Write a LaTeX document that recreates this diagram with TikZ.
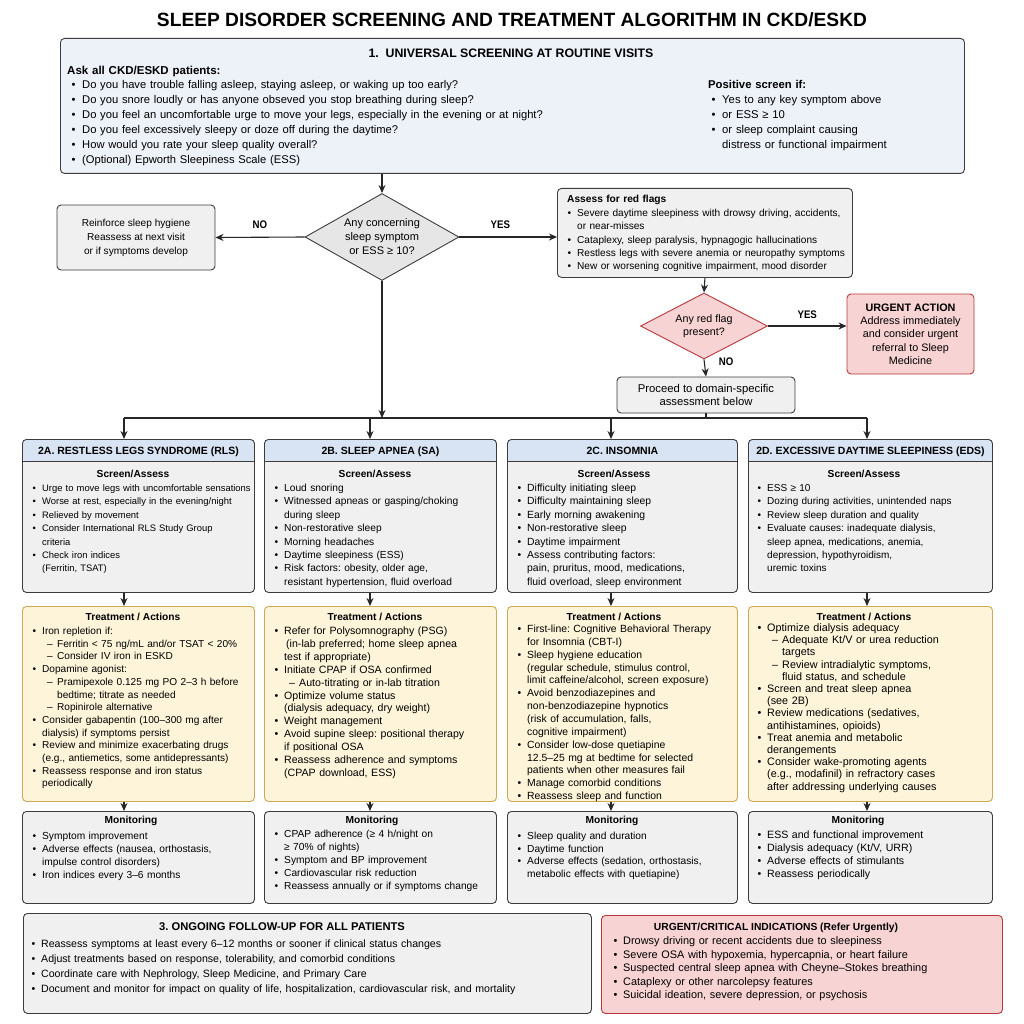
\documentclass[tikz,border=0pt]{standalone}
\usepackage{fontspec}
\setmainfont{Liberation Sans}
\newfontfamily\narrowfont[FakeStretch=0.88]{Liberation Sans}
\usetikzlibrary{shapes.geometric,arrows.meta,positioning,calc}
\frenchspacing

\definecolor{linegray}{HTML}{3C3C3C}
\definecolor{boxgray}{HTML}{F0F0F0}
\definecolor{diagray}{HTML}{E6E6E6}
\definecolor{paleblue}{HTML}{EDF1F8}
\definecolor{hdrblue}{HTML}{D8E4F3}
\definecolor{paleyellow}{HTML}{FDF4D9}
\definecolor{tanline}{HTML}{CFA854}
\definecolor{palered}{HTML}{F8D3D3}
\definecolor{darkred}{HTML}{B8383A}

\newlength{\bulw}
\setlength{\bulw}{9.5pt}
\newcommand{\bitem}[1]{\hangindent=\bulw\hangafter=1\noindent\makebox[\bulw][l]{\textbullet}#1\par}
\newcommand{\ditem}[1]{\hangindent=\dimexpr\bulw+15pt\relax\hangafter=1\noindent\hspace*{\dimexpr\bulw+5pt\relax}\makebox[10pt][l]{–}#1\par}
\newcommand{\brk}{\hfil\break}
\newcommand{\fs}[2]{\fontsize{#1}{#2}\selectfont}

\tikzset{
  panel/.style={rounded corners=4pt, line width=0.9pt, inner sep=0pt, anchor=north west},
  graybox/.style={panel, draw=linegray, fill=boxgray},
  bluebox/.style={panel, draw=linegray, fill=paleblue},
  yelbox/.style={panel, draw=tanline, fill=paleyellow},
  redbox/.style={panel, draw=darkred, fill=palered},
  colbox/.style={graybox, path picture={\fill[hdrblue] (path picture bounding box.north west) rectangle ([yshift=-22pt]path picture bounding box.north east);}},
  msgbox/.style={graybox, anchor=center, align=center},
  decision/.style={diamond, draw=linegray, fill=diagray, line width=0.9pt, inner sep=0pt, align=center},
  bodytext/.style={anchor=base west, inner sep=0pt, align=left, text width=#1},
  headtext/.style={anchor=base, inner sep=0pt, font=\bfseries\fs{10.2}{12}},
  link/.style={draw=black!85, line width=1.1pt},
  arr/.style={link, -{Stealth[length=8pt,width=7pt]}},
  answer/.style={font=\narrowfont\bfseries\fs{11}{13}, inner sep=0pt}
}

\begin{document}
\begin{tikzpicture}[x=1pt,y=-1pt]
\useasboundingbox (0,0) rectangle (1024,1024);

% Title
\node[font=\bfseries\fs{19.2}{22}, inner sep=0pt] (title) at (512,20) {SLEEP DISORDER SCREENING AND TREATMENT ALGORITHM IN CKD/ESKD};

% Universal screening
\node[bluebox, minimum width=904pt, minimum height=135pt] (screen) at (60,38) {};
\node[anchor=base, inner sep=0pt, font=\bfseries\fs{12.3}{14}] (screenhead) at (511,57.5) {1.\ \ UNIVERSAL SCREENING AT ROUTINE VISITS};
\node[bodytext=300pt, font=\bfseries\fs{11.5}{15}] (askhead) at (67,75) {Ask all CKD/ESKD patients:};
\node[bodytext=620pt, font=\fs{11.2}{15}\setlength{\bulw}{10.5pt}] (asklist) at (71.5,89) {
  \bitem{Do you have trouble falling asleep, staying asleep, or waking up too early?}
  \bitem{Do you snore loudly or has anyone obseved you stop breathing during sleep?}
  \bitem{Do you feel an uncomfortable urge to move your legs, especially in the evening or at night?}
  \bitem{Do you feel excessively sleepy or doze off during the daytime?}
  \bitem{How would you rate your sleep quality overall?}
  \bitem{(Optional) Epworth Sleepiness Scale (ESS)}};
\node[bodytext=250pt, font=\bfseries\fs{11.3}{15}] (poshead) at (708,89) {Positive screen if:};
\node[bodytext=250pt, font=\fs{11.3}{15}\setlength{\bulw}{10.5pt}] (poslist) at (711.5,104) {
  \bitem{Yes to any key symptom above}
  \bitem{or ESS ≥ 10}
  \bitem{or sleep complaint causing\brk distress or functional impairment}};

% First decision and its two answers
\node[decision, font=\fs{11}{14}, minimum width=154pt, minimum height=87pt, aspect=1.77] (dia1) at (382,237) {Any concerning\\sleep symptom\\or ESS ≥ 10?};
\node[msgbox, font=\fs{10.1}{14}, minimum width=158pt, minimum height=65pt] (hyg) at (136,237.5) {Reinforce sleep hygiene\\Reassess at next visit\\or if symptoms develop};
\node[graybox, minimum width=295pt, minimum height=89pt] (flags) at (557,188) {};
\node[bodytext=300pt, font=\bfseries\fs{10.2}{13}] (flaghead) at (567,202.5) {Assess for red flags};
\node[bodytext=300pt, font=\fs{10.1}{13.3}] (flaglist) at (567.5,216.5) {
  \bitem{Severe daytime sleepiness with drowsy driving, accidents,\brk or near-misses}
  \bitem{Cataplexy, sleep paralysis, hypnagogic hallucinations}
  \bitem{Restless legs with severe anemia or neuropathy symptoms}
  \bitem{New or worsening cognitive impairment, mood disorder}};

% Red flag decision
\node[decision, font=\fs{10.7}{13}, fill=palered, draw=darkred, minimum width=127pt, minimum height=66pt, aspect=1.92] (dia2) at (704,326) {Any red flag\\present?};
\node[redbox, anchor=center, align=center, font=\fs{10.8}{13.3}, minimum width=127pt, minimum height=80pt] (urgent) at (910.5,334) {\textbf{URGENT ACTION}\\Address immediately\\and consider urgent\\referral to Sleep\\Medicine};
\node[msgbox, font=\fs{11.3}{13}, minimum width=178pt, minimum height=36pt] (proceed) at (706,395) {Proceed to domain-specific\\assessment below};

% Connect the upper part
\draw[arr] (screen.south -| dia1.north) -- (dia1.north);
\draw[arr] (dia1.west) -- node[answer, above=8pt] (no1) {NO} (hyg.east);
\draw[arr] (dia1.east) -- node[answer, above=8pt, pos=0.42] (yes1) {YES} (dia1.east -| flags.west);
\draw[arr] (flags.south) -- (dia2.north);
\draw[arr] (dia2.east) -- node[answer, above=7pt] (yes2) {YES} (dia2.east -| urgent.west);
\draw[arr] (dia2.south) -- node[answer, right=14pt, pos=0.15] (no2) {NO} (proceed.north);

% Four domain columns
\node[colbox, minimum width=232pt, minimum height=153pt] (scrA) at (22,439) {};
\node[colbox, minimum width=232pt, minimum height=153pt] (scrB) at (264,439) {};
\node[colbox, minimum width=230pt, minimum height=153pt] (scrC) at (507,439) {};
\node[colbox, minimum width=244pt, minimum height=153pt] (scrD) at (748,439) {};
\draw[linegray, line width=0.9pt] ([yshift=-22pt]scrA.north west) -- ([yshift=-22pt]scrA.north east);
\draw[linegray, line width=0.9pt] ([yshift=-22pt]scrB.north west) -- ([yshift=-22pt]scrB.north east);
\draw[linegray, line width=0.9pt] ([yshift=-22pt]scrC.north west) -- ([yshift=-22pt]scrC.north east);
\draw[linegray, line width=0.9pt] ([yshift=-22pt]scrD.north west) -- ([yshift=-22pt]scrD.north east);
\node[headtext, font=\bfseries\fs{10.5}{12}] (hdrA) at ($(scrA.north)+(0,15.3)$) {2A. RESTLESS LEGS SYNDROME (RLS)};
\node[headtext, font=\bfseries\fs{10.5}{12}] (hdrB) at ($(scrB.north)+(0,15.3)$) {2B. SLEEP APNEA (SA)};
\node[headtext, font=\bfseries\fs{10.5}{12}] (hdrC) at ($(scrC.north)+(0,15.3)$) {2C. INSOMNIA};
\node[headtext, font=\bfseries\fs{10.5}{12}] (hdrD) at ($(scrD.north)+(0,15.3)$) {2D. EXCESSIVE DAYTIME SLEEPINESS (EDS)};

\node[headtext] (sabA) at (133,477.5) {Screen/Assess};
\node[headtext] (sabB) at (375,477.5) {Screen/Assess};
\node[headtext] (sabC) at (614,477.5) {Screen/Assess};
\node[headtext] (sabD) at (864,477.5) {Screen/Assess};
\node[bodytext=240pt, font=\fs{9.4}{13.4}] (sabAlist) at (32.5,491.5) {
  \bitem{Urge to move legs with uncomfortable sensations}
  \bitem{Worse at rest, especially in the evening/night}
  \bitem{Relieved by movement}
  \bitem{Consider International RLS Study Group\brk criteria}
  \bitem{Check iron indices\brk (Ferritin, TSAT)}};
\node[bodytext=240pt, font=\fs{10.2}{13.4}] (sabBlist) at (274.5,491.5) {
  \bitem{Loud snoring}
  \bitem{Witnessed apneas or gasping/choking\brk during sleep}
  \bitem{Non-restorative sleep}
  \bitem{Morning headaches}
  \bitem{Daytime sleepiness (ESS)}
  \bitem{Risk factors: obesity, older age,\brk resistant hypertension, fluid overload}};
\node[bodytext=240pt, font=\fs{10.4}{13.4}] (sabClist) at (517.5,491.5) {
  \bitem{Difficulty initiating sleep}
  \bitem{Difficulty maintaining sleep}
  \bitem{Early morning awakening}
  \bitem{Non-restorative sleep}
  \bitem{Daytime impairment}
  \bitem{Assess contributing factors:\brk pain, pruritus, mood, medications,\brk fluid overload, sleep environment}};
\node[bodytext=240pt, font=\fs{10}{13.4}] (sabDlist) at (757.5,491.5) {
  \bitem{ESS ≥ 10}
  \bitem{Dozing during activities, unintended naps}
  \bitem{Review sleep duration and quality}
  \bitem{Evaluate causes: inadequate dialysis,\brk sleep apnea, medications, anemia,\brk depression, hypothyroidism,\brk uremic toxins}};

% Treatment boxes
\node[yelbox, minimum width=232pt, minimum height=195pt] (trtA) at (22,606) {};
\node[yelbox, minimum width=232pt, minimum height=195pt] (trtB) at (264,606) {};
\node[yelbox, minimum width=230pt, minimum height=195pt] (trtC) at (507,606) {};
\node[yelbox, minimum width=244pt, minimum height=195pt] (trtD) at (748,606) {};
\node[headtext] (actA) at (133,620.5) {Treatment / Actions};
\node[headtext] (actB) at (375,620.5) {Treatment / Actions};
\node[headtext] (actC) at (614,620.5) {Treatment / Actions};
\node[headtext] (actD) at (864,620.5) {Treatment / Actions};
\node[bodytext=240pt, font=\fs{10.1}{12.7}] (actAlist) at (32.5,634.5) {
  \bitem{Iron repletion if:}
  \ditem{Ferritin < 75 ng/mL and/or TSAT < 20\%}
  \ditem{Consider IV iron in ESKD}
  \bitem{Dopamine agonist:}
  \ditem{Pramipexole 0.125 mg PO 2–3 h before\brk bedtime; titrate as needed}
  \ditem{Ropinirole alternative}
  \bitem{Consider gabapentin (100–300 mg after\brk dialysis) if symptoms persist}
  \bitem{Review and minimize exacerbating drugs\brk (e.g., antiemetics, some antidepressants)}
  \bitem{Reassess response and iron status\brk periodically}};
\node[bodytext=240pt, font=\fs{10.6}{12.9}] (actBlist) at (274.5,634.5) {
  \bitem{Refer for Polysomnography (PSG)\brk\hspace*{2pt}(in-lab preferred; home sleep apnea\brk test if appropriate)}
  \bitem{Initiate CPAP if OSA confirmed}
  \ditem{Auto-titrating or in-lab titration}
  \bitem{Optimize volume status\brk (dialysis adequacy, dry weight)}
  \bitem{Weight management}
  \bitem{Avoid supine sleep: positional therapy\brk if positional OSA}
  \bitem{Reassess adherence and symptoms\brk (CPAP download, ESS)}};
\node[bodytext=240pt, font=\fs{10.4}{12.85}] (actClist) at (517.5,632.5) {
  \bitem{First-line: Cognitive Behavioral Therapy\brk for Insomnia (CBT-I)}
  \bitem{Sleep hygiene education\brk (regular schedule, stimulus control,\brk limit caffeine/alcohol, screen exposure)}
  \bitem{Avoid benzodiazepines and\brk non-benzodiazepine hypnotics\brk (risk of accumulation, falls,\brk cognitive impairment)}
  \bitem{Consider low-dose quetiapine\brk 12.5–25 mg at bedtime for selected\brk patients when other measures fail}
  \bitem{Manage comorbid conditions}
  \bitem{Reassess sleep and function}};
\node[bodytext=240pt, font=\fs{10.8}{12.2}] (actDlist) at (757.5,631.5) {
  \bitem{Optimize dialysis adequacy}
  \ditem{Adequate Kt/V or urea reduction\brk targets}
  \ditem{Review intradialytic symptoms,\brk fluid status, and schedule}
  \bitem{Screen and treat sleep apnea\brk (see 2B)}
  \bitem{Review medications (sedatives,\brk antihistamines, opioids)}
  \bitem{Treat anemia and metabolic\brk derangements}
  \bitem{Consider wake-promoting agents\brk (e.g., modafinil) in refractory cases\brk after addressing underlying causes}};

% Monitoring boxes
\node[graybox, minimum width=232pt, minimum height=92pt] (monA) at (22,811) {};
\node[graybox, minimum width=232pt, minimum height=92pt] (monB) at (264,811) {};
\node[graybox, minimum width=230pt, minimum height=92pt] (monC) at (507,811) {};
\node[graybox, minimum width=244pt, minimum height=92pt] (monD) at (748,811) {};
\node[headtext] (watchA) at (131,823.5) {Monitoring};
\node[headtext] (watchB) at (372,823.5) {Monitoring};
\node[headtext] (watchC) at (612,823.5) {Monitoring};
\node[headtext] (watchD) at (858,823.5) {Monitoring};
\node[bodytext=240pt, font=\fs{10.2}{13}] (watchAlist) at (32.5,839.5) {
  \bitem{Symptom improvement}
  \bitem{Adverse effects (nausea, orthostasis,\brk impulse control disorders)}
  \bitem{Iron indices every 3–6 months}};
\node[bodytext=240pt, font=\fs{10.2}{13}] (watchBlist) at (274.5,837) {
  \bitem{CPAP adherence (≥ 4 h/night on\brk ≥ 70\% of nights)}
  \bitem{Symptom and BP improvement}
  \bitem{Cardiovascular risk reduction}
  \bitem{Reassess annually or if symptoms change}};
\node[bodytext=240pt, font=\fs{10.2}{12.5}] (watchClist) at (517.5,839.5) {
  \bitem{Sleep quality and duration}
  \bitem{Daytime function}
  \bitem{Adverse effects (sedation, orthostasis,\brk metabolic effects with quetiapine)}};
\node[bodytext=240pt, font=\fs{10.6}{13}] (watchDlist) at (757.5,838) {
  \bitem{ESS and functional improvement}
  \bitem{Dialysis adequacy (Kt/V, URR)}
  \bitem{Adverse effects of stimulants}
  \bitem{Reassess periodically}};

% Bus and column arrows
\coordinate (xA) at (124,418);
\coordinate (xB) at (370,418);
\coordinate (xC) at (611,418);
\coordinate (xD) at (867,418);
\draw[link] (xA) -- (xD);
\draw[arr] (dia1.south) -- (dia1.south |- xA);
\draw[link] (proceed.south) -- (proceed.south |- xA);
\draw[arr] (xA) -- (xA |- scrA.north);
\draw[arr] (xB) -- (xB |- scrB.north);
\draw[arr] (xC) -- (xC |- scrC.north);
\draw[arr] (xD) -- (xD |- scrD.north);
\draw[arr] (xA |- scrA.south) -- (xA |- trtA.north);
\draw[arr] (xB |- scrB.south) -- (xB |- trtB.north);
\draw[arr] (xC |- scrC.south) -- (xC |- trtC.north);
\draw[arr] (xD |- scrD.south) -- (xD |- trtD.north);
\draw[arr] (xA |- trtA.south) -- (xA |- monA.north);
\draw[arr] (xB |- trtB.south) -- (xB |- monB.north);
\draw[arr] (xC |- trtC.south) -- (xC |- monC.north);
\draw[arr] (xD |- trtD.south) -- (xD |- monD.north);

% Follow-up and urgent indications
\node[graybox, minimum width=568pt, minimum height=100pt] (follow) at (23,913) {};
\node[anchor=base, inner sep=0pt, font=\bfseries\fs{11.2}{13}] (followhead) at (282,930) {3. ONGOING FOLLOW-UP FOR ALL PATIENTS};
\node[bodytext=560pt, font=\fs{10.6}{15}] (followlist) at (31.5,947.5) {
  \bitem{Reassess symptoms at least every 6–12 months or sooner if clinical status changes}
  \bitem{Adjust treatments based on response, tolerability, and comorbid conditions}
  \bitem{Coordinate care with Nephrology, Sleep Medicine, and Primary Care}
  \bitem{Document and monitor for impact on quality of life, hospitalization, cardiovascular risk, and mortality}};
\node[redbox, minimum width=401pt, minimum height=98pt] (critical) at (601,915) {};
\node[anchor=base, inner sep=0pt, font=\bfseries\fs{10.3}{12}] (crithead) at (776,930.5) {URGENT/CRITICAL INDICATIONS (Refer Urgently)};
\node[bodytext=390pt, font=\fs{10.9}{13.6}] (critlist) at (613.5,944.5) {
  \bitem{Drowsy driving or recent accidents due to sleepiness}
  \bitem{Severe OSA with hypoxemia, hypercapnia, or heart failure}
  \bitem{Suspected central sleep apnea with Cheyne–Stokes breathing}
  \bitem{Cataplexy or other narcolepsy features}
  \bitem{Suicidal ideation, severe depression, or psychosis}};
\end{tikzpicture}
\end{document}
